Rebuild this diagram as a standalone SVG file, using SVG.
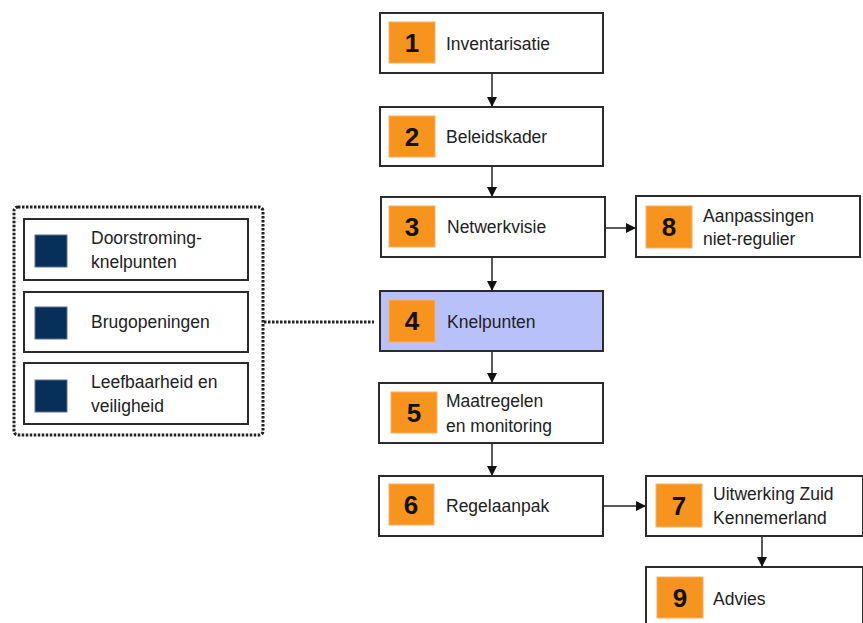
<svg xmlns="http://www.w3.org/2000/svg" width="863" height="623" viewBox="0 0 863 623">
<defs>
<style>
.box{fill:#fff;stroke:#2b2b2b;stroke-width:2}
.hl{fill:#B9C1FB}
.sq{fill:#F7941E;stroke:#FBB060;stroke-width:1}
.nv{fill:#06305A;stroke:#5A7190;stroke-width:1}
.num{font-family:"Liberation Sans",Arial,sans-serif;font-weight:bold;font-size:26px;fill:#111;text-anchor:middle}
.lbl{font-family:"Liberation Sans",Arial,sans-serif;font-size:17.5px;fill:#222}
.conn{stroke:#222;stroke-width:1.5;fill:none}
.dot{stroke:#222;stroke-width:3;stroke-dasharray:2.5 1.5;fill:none}
</style>
<marker id="ah" viewBox="0 0 10 10" refX="10" refY="5" markerWidth="10" markerHeight="10" markerUnits="userSpaceOnUse" orient="auto">
<path d="M0,0 L10,5 L0,10 Z" fill="#111"/>
</marker>
</defs>
<g id="connectors">
<line class="conn" x1="492" y1="73" x2="492" y2="107" marker-end="url(#ah)"/>
<line class="conn" x1="492" y1="166" x2="492" y2="197" marker-end="url(#ah)"/>
<line class="conn" x1="492" y1="257" x2="492" y2="291" marker-end="url(#ah)"/>
<line class="conn" x1="492" y1="351" x2="492" y2="383" marker-end="url(#ah)"/>
<line class="conn" x1="492" y1="443" x2="492" y2="476" marker-end="url(#ah)"/>
<line class="conn" x1="605" y1="228" x2="636" y2="228" marker-end="url(#ah)"/>
<line class="conn" x1="604" y1="506" x2="646" y2="506" marker-end="url(#ah)"/>
<line class="conn" x1="762" y1="536" x2="762" y2="567" marker-end="url(#ah)"/>
<line class="dot" x1="264" y1="322" x2="374" y2="322"/>
</g>
<g id="group-knelpunten">
<rect class="dot" x="14" y="207" width="249" height="228" rx="4"/>
</g>
<g id="sub1">
<rect class="box" x="24" y="219" width="224" height="61"/>
<rect class="nv" x="35" y="235" width="32" height="32"/>
<text class="lbl" x="91" y="244">Doorstroming-</text>
<text class="lbl" x="91" y="268">knelpunten</text>
</g>
<g id="sub2">
<rect class="box" x="24" y="292" width="224" height="60"/>
<rect class="nv" x="35" y="307" width="32" height="32"/>
<text class="lbl" x="91" y="328">Brugopeningen</text>
</g>
<g id="sub3">
<rect class="box" x="24" y="363" width="224" height="61"/>
<rect class="nv" x="35" y="380" width="32" height="32"/>
<text class="lbl" x="91" y="388">Leefbaarheid en</text>
<text class="lbl" x="91" y="412">veiligheid</text>
</g>
<g id="n1">
<rect class="box" x="380" y="13" width="223" height="60"/>
<rect class="sq" x="389" y="22" width="46" height="41"/>
<text class="num" x="412" y="52">1</text>
<text class="lbl" x="446" y="50">Inventarisatie</text>
</g>
<g id="n2">
<rect class="box" x="380" y="107" width="223" height="59"/>
<rect class="sq" x="389" y="116" width="46" height="41"/>
<text class="num" x="412" y="146">2</text>
<text class="lbl" x="446" y="143">Beleidskader</text>
</g>
<g id="n3">
<rect class="box" x="381" y="197" width="224" height="60"/>
<rect class="sq" x="389" y="206" width="46" height="41"/>
<text class="num" x="412" y="236">3</text>
<text class="lbl" x="447" y="233">Netwerkvisie</text>
</g>
<g id="n4">
<rect class="box hl" x="380" y="291" width="223" height="60"/>
<rect class="sq" x="389" y="300" width="46" height="42"/>
<text class="num" x="412" y="330">4</text>
<text class="lbl" x="447" y="328">Knelpunten</text>
</g>
<g id="n5">
<rect class="box" x="379" y="383" width="224" height="60"/>
<rect class="sq" x="391" y="392" width="46" height="41"/>
<text class="num" x="414" y="422">5</text>
<text class="lbl" x="446" y="407">Maatregelen</text>
<text class="lbl" x="446" y="432">en monitoring</text>
</g>
<g id="n6">
<rect class="box" x="379" y="476" width="224" height="60"/>
<rect class="sq" x="389" y="484" width="45" height="41"/>
<text class="num" x="411" y="514">6</text>
<text class="lbl" x="446" y="512">Regelaanpak</text>
</g>
<g id="n7">
<rect class="box" x="646" y="476" width="217" height="60"/>
<rect class="sq" x="656" y="484" width="46" height="43"/>
<text class="num" x="679" y="515">7</text>
<text class="lbl" x="713" y="500">Uitwerking Zuid</text>
<text class="lbl" x="713" y="524">Kennemerland</text>
</g>
<g id="n8">
<rect class="box" x="636" y="196" width="224" height="61"/>
<rect class="sq" x="646" y="206" width="46" height="42"/>
<text class="num" x="669" y="236">8</text>
<text class="lbl" x="703" y="222">Aanpassingen</text>
<text class="lbl" x="703" y="245">niet-regulier</text>
</g>
<g id="n9">
<rect class="box" x="646" y="567" width="217" height="70"/>
<rect class="sq" x="657" y="577" width="46" height="41"/>
<text class="num" x="680" y="607">9</text>
<text class="lbl" x="713" y="605">Advies</text>
</g>
</svg>
